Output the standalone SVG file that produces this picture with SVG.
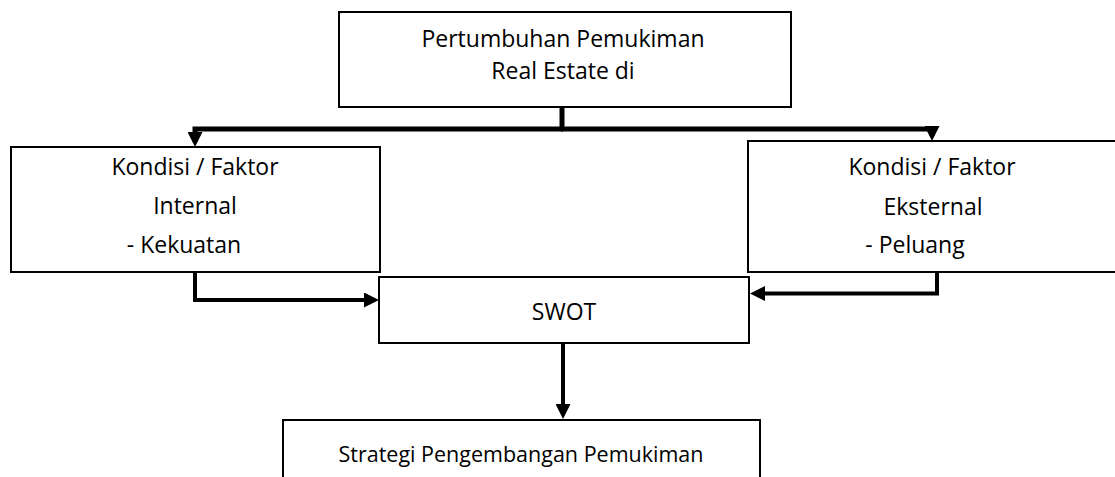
<svg xmlns="http://www.w3.org/2000/svg" width="1115" height="477" viewBox="0 0 1115 477">
<style>
.box{fill:#fff;stroke:#000;stroke-width:2}
.t{font-family:"Open Sans","Liberation Sans",sans-serif;font-size:23px;fill:#000}
.s{font-size:21.5px}
.c{text-anchor:middle}
.con{fill:none;stroke:#000;stroke-width:4;stroke-linejoin:miter}
.thick{stroke-width:5}
</style>
<defs>
<marker id="ah" viewBox="0 0 10 10" refX="6.67" refY="5" markerWidth="15" markerHeight="15" markerUnits="userSpaceOnUse" orient="auto">
<path d="M0,0 L10,5 L0,10 z" fill="#000"/>
</marker>
</defs>
<g id="connectors">
<path class="con thick" d="M562,107 V129"/>
<path class="con thick" d="M563,129 H195 V142" marker-end="url(#ah)"/>
<path class="con thick" d="M561,129 H932 V136" marker-end="url(#ah)"/>
<path class="con" d="M195,272 V300 H374" marker-end="url(#ah)"/>
<path class="con" d="M937,272 V293.5 H755" marker-end="url(#ah)"/>
<path class="con" d="M563,343 V414" marker-end="url(#ah)"/>
</g>
<g id="node-top">
<rect class="box" x="339" y="12" width="452" height="95"/>
<text class="t c" x="563" y="47">Pertumbuhan Pemukiman</text>
<text class="t c" x="563" y="79">Real Estate di</text>
</g>
<g id="node-internal">
<rect class="box" x="11" y="147" width="369" height="125"/>
<text class="t c" x="195" y="175">Kondisi / Faktor</text>
<text class="t c" x="195" y="214">Internal</text>
<text class="t c" x="184" y="253">- Kekuatan</text>
</g>
<g id="node-external">
<rect class="box" x="748" y="141" width="380" height="131"/>
<text class="t c" x="932" y="175">Kondisi / Faktor</text>
<text class="t c" x="933" y="215">Eksternal</text>
<text class="t c" x="915" y="253">- Peluang</text>
</g>
<g id="node-swot">
<rect class="box" x="379" y="277" width="370" height="66"/>
<text class="t c" x="564" y="320">SWOT</text>
</g>
<g id="node-strategi">
<rect class="box" x="283" y="420" width="477" height="80"/>
<text class="t s c" x="521" y="462">Strategi Pengembangan Pemukiman</text>
</g>
</svg>
